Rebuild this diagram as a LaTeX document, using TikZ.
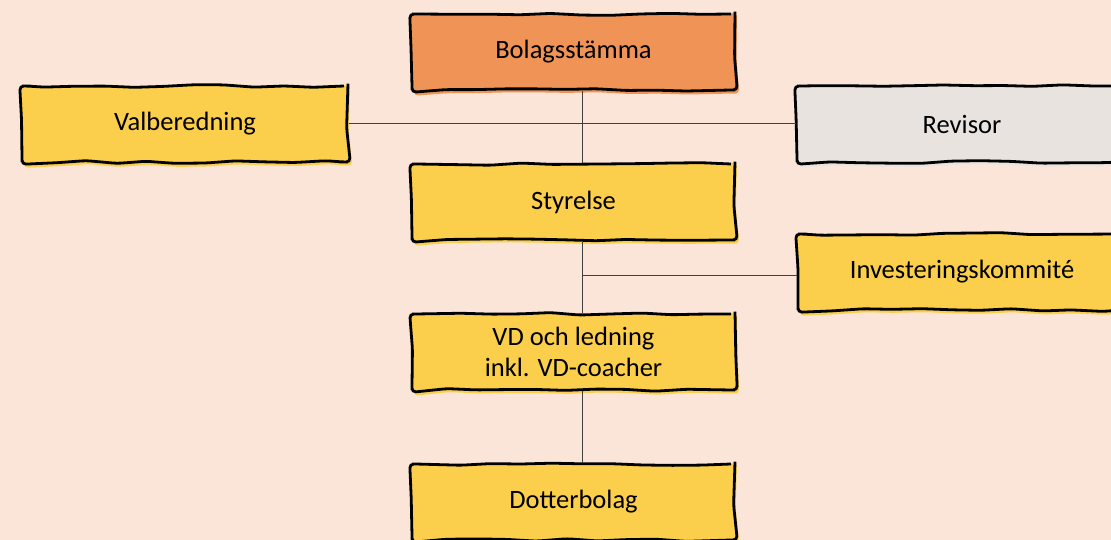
\documentclass[tikz,border=0pt]{standalone}
\usepackage{fontspec}
\setmainfont{Carlito}
\usetikzlibrary{decorations.pathmorphing,positioning}
\definecolor{bgpeach}{HTML}{FAE5D8}
\definecolor{boxorange}{HTML}{EF9456}
\definecolor{boxyellow}{HTML}{FBCE4B}
\definecolor{boxgrey}{HTML}{E9E3DF}
\definecolor{linkgrey}{HTML}{404040}

\begin{document}
\begin{tikzpicture}[x=1pt, y=-1pt,
		box/.style={draw=black, line width=2.8pt, fill=#1,
			preaction={fill=#1, transform canvas={xshift=2pt, yshift=-3.5pt}},
			rounded corners=4pt, decorate,
			decoration={random steps, segment length=30pt, amplitude=1.4pt},
			minimum width=323pt, minimum height=76pt, inner sep=0pt,
			align=center, font=\fontsize{26.5}{31}\selectfont},
		link/.style={draw=linkgrey, line width=1pt}]
		\pgfmathsetseed{7}
		\clip (0,0) rectangle (1111,540);
		\fill [bgpeach] (0,0) rectangle (1111,540);
		\coordinate (spine) at (582,0);
		% boxes
		\path (573.5,52) node [box=boxorange] (bolag) {Bolagsstämma};
		\path (185,124) node [box=boxyellow, minimum width=326pt] (valb) {Valberedning};
		\path (962,124) node [box=boxgrey, minimum width=330pt] (revisor) {Revisor};
		\path (573.5,202) node [box=boxyellow] (styrelse) {Styrelse};
		\path (962,272) node [box=boxyellow, minimum width=328pt] (invest) {Investeringskommité};
		\path (573.5,352) node [box=boxyellow] (vd) {VD och ledning\\inkl. VD-coacher};
		\path (573.5,502) node [box=boxyellow] (dotter) {Dotterbolag};
		\coordinate (investin) at ([yshift=-3pt]invest.west);
		% connectors
		\draw [link] (bolag.south -| spine) -- (styrelse.north -| spine);
		\draw [link] (valb.east) -- (revisor.west);
		\draw [link] (styrelse.south -| spine) -- (vd.north -| spine);
		\draw [link] (spine |- investin) -- (investin);
		\draw [link] (vd.south -| spine) -- (dotter.north -| spine);
\end{tikzpicture}
\end{document}
